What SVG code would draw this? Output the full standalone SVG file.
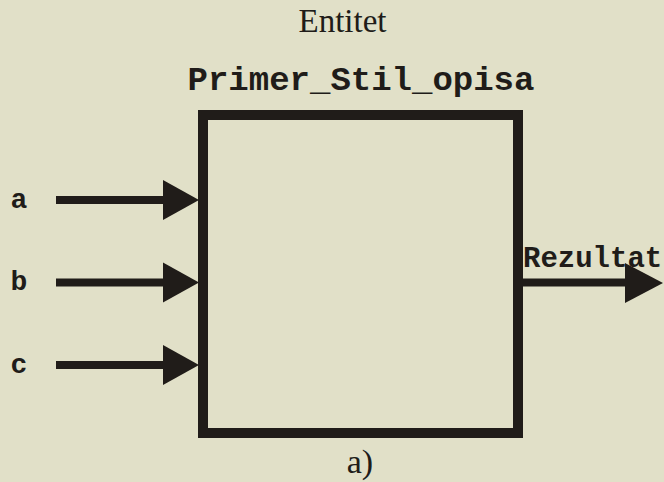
<svg xmlns="http://www.w3.org/2000/svg" width="664" height="482" viewBox="0 0 664 482">
<style>
.serif{font-family:"Liberation Serif","Times New Roman",serif;fill:#201c19}
.mono{font-family:"Liberation Mono","Courier New",monospace;font-weight:bold;fill:#201c19}
.wire{stroke:#201c19;stroke-width:8;fill:none}
.head{fill:#201c19}
</style>
<rect width="664" height="482" fill="#e1e0c8"/>
<text class="serif" x="342.5" y="32" font-size="33" text-anchor="middle">Entitet</text>
<g id="entity">
<text class="mono" x="361" y="90" font-size="34" text-anchor="middle">Primer_Stil_opisa</text>
<rect x="203" y="115" width="315" height="318" fill="none" stroke="#201c19" stroke-width="10"/>
</g>
<g id="port-a"><text class="mono" x="19" y="208" font-size="28" text-anchor="middle">a</text></g>
<g id="port-b"><text class="mono" x="19" y="290" font-size="28" text-anchor="middle">b</text></g>
<g id="port-c"><text class="mono" x="19" y="373" font-size="28" text-anchor="middle">c</text></g>
<g id="port-rezultat"><text class="mono" x="523" y="267" font-size="29">Rezultat</text></g>
<g id="connectors">
<line class="wire" x1="56" y1="200" x2="165" y2="200"/>
<polygon class="head" points="163,180 199,200 163,220"/>
<line class="wire" x1="56" y1="282.5" x2="165" y2="282.5"/>
<polygon class="head" points="163,262.5 199,282.5 163,302.5"/>
<line class="wire" x1="56" y1="365" x2="165" y2="365"/>
<polygon class="head" points="163,345 199,365 163,385"/>
<line class="wire" x1="523" y1="282.5" x2="627" y2="282.5"/>
<polygon class="head" points="625,263 663,283 625,303"/>
</g>
<text class="serif" x="360" y="473" font-size="34" text-anchor="middle">a)</text>
</svg>
